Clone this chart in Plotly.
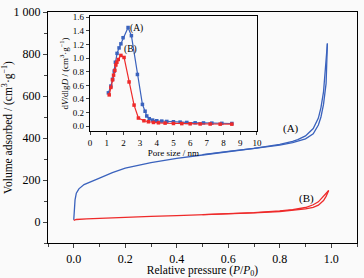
import plotly.graph_objects as go

# Main isotherms
pA_ads = [0.0, 0.002, 0.005, 0.01, 0.02, 0.04, 0.07, 0.1, 0.15, 0.2, 0.3, 0.4, 0.5, 0.6, 0.7, 0.8, 0.85, 0.9, 0.93, 0.95, 0.96, 0.97, 0.98, 0.985]
vA_ads = [10, 60, 105, 137, 158, 178, 195, 209, 235, 256, 283, 303, 319, 334, 349, 366, 378, 396, 420, 462, 500, 560, 660, 850]
pA_des = [0.985, 0.98, 0.975, 0.97, 0.96, 0.95, 0.93, 0.9, 0.87, 0.85, 0.8, 0.7, 0.6, 0.5]
vA_des = [850, 770, 690, 620, 545, 495, 445, 410, 392, 384, 370, 351, 336, 321]

pB_ads = [0.0, 0.005, 0.01, 0.05, 0.1, 0.2, 0.3, 0.4, 0.5, 0.6, 0.7, 0.8, 0.85, 0.9, 0.93, 0.95, 0.97, 0.98, 0.99]
vB_ads = [8, 11, 12, 15, 18, 23, 27, 30, 34, 38, 43, 50, 55, 62, 70, 80, 102, 122, 150]
pB_des = [0.99, 0.98, 0.97, 0.95, 0.93, 0.9, 0.85, 0.8, 0.7, 0.6, 0.5]
vB_des = [150, 136, 120, 96, 82, 69, 59, 53, 45, 39, 35]

# Inset pore size distribution
dA = [1.1, 1.25, 1.35, 1.45, 1.52, 1.62, 1.74, 1.85, 1.98, 2.28, 2.48, 2.84, 3.14, 3.3, 3.4, 3.55, 3.75, 4.0, 4.3, 4.6, 5.0, 5.4, 5.8, 6.3, 6.8, 7.3, 7.9, 8.5]
yA = [0.49, 0.59, 0.69, 0.81, 0.94, 1.07, 1.15, 1.21, 1.30, 1.45, 1.33, 0.76, 0.32, 0.22, 0.15, 0.11, 0.09, 0.08, 0.075, 0.07, 0.065, 0.06, 0.055, 0.05, 0.048, 0.045, 0.042, 0.04]
dB = [1.15, 1.25, 1.35, 1.41, 1.49, 1.55, 1.61, 1.69, 1.85, 2.04, 2.34, 2.64, 2.9, 3.23, 3.5, 3.8, 4.1, 4.5, 5.0, 5.5, 6.0, 6.6, 7.2, 7.8, 8.5]
yB = [0.46, 0.57, 0.68, 0.75, 0.82, 0.90, 0.94, 0.98, 1.04, 1.01, 0.65, 0.31, 0.12, 0.08, 0.065, 0.055, 0.05, 0.045, 0.04, 0.038, 0.035, 0.033, 0.032, 0.03, 0.03]

y_ticks = [0, 200, 400, 600, 800, 1000]
y_ticktext = ["0", "200", "400", "600", "800", "1 000"]

BLUE = "#3a62bd"
RED = "#ee2a2a"
FONT = "Liberation Serif, Times New Roman, serif"

fig = go.Figure()
fig.add_trace(go.Scatter(x=pA_ads, y=vA_ads, mode="lines", line=dict(color=BLUE, width=1.3), showlegend=False))
fig.add_trace(go.Scatter(x=pA_des, y=vA_des, mode="lines", line=dict(color=BLUE, width=1.3), showlegend=False))
fig.add_trace(go.Scatter(x=pB_ads, y=vB_ads, mode="lines", line=dict(color=RED, width=1.3), showlegend=False))
fig.add_trace(go.Scatter(x=pB_des, y=vB_des, mode="lines", line=dict(color=RED, width=1.3), showlegend=False))

fig.add_trace(go.Scatter(x=dA, y=yA, mode="lines+markers", xaxis="x2", yaxis="y2",
                         line=dict(color=BLUE, width=1.2), marker=dict(symbol="square", size=3.5, color=BLUE),
                         showlegend=False))
fig.add_trace(go.Scatter(x=dB, y=yB, mode="lines+markers", xaxis="x2", yaxis="y2",
                         line=dict(color=RED, width=1.2), marker=dict(symbol="square", size=3.5, color=RED),
                         showlegend=False))

fig.update_layout(
    width=364, height=278,
    margin=dict(l=48, r=7, t=12, b=35),
    paper_bgcolor="#fafafa", plot_bgcolor="#fafafa",
    font=dict(family=FONT, color="black", size=12),
    xaxis=dict(range=[-0.1, 1.1], tickvals=[0.0, 0.2, 0.4, 0.6, 0.8, 1.0], tickformat=".1f",
               ticks="outside", ticklen=4, tickwidth=1, showline=True, linecolor="black", linewidth=1.4,
               mirror=True, showgrid=False, zeroline=False, automargin=False,
               minor=dict(ticks="outside", ticklen=2.5, dtick=0.1, tick0=0, showgrid=False),
               title=dict(text="Relative pressure (<i>P</i>/<i>P</i><sub>0</sub>)", font=dict(size=11.5), standoff=2),
               tickfont=dict(size=12)),
    yaxis=dict(range=[-100, 1000], tickvals=y_ticks, ticktext=y_ticktext,
               ticks="outside", ticklen=4, tickwidth=1, showline=True, linecolor="black", linewidth=1.4,
               mirror=True, showgrid=False, zeroline=False, automargin=False,
               minor=dict(ticks="outside", ticklen=2.5, dtick=100, tick0=0, showgrid=False),
               title=dict(text="Volume adsorbed / (cm<sup>3</sup>·g<sup>−1</sup>)", font=dict(size=11.5), standoff=4),
               tickfont=dict(size=12)),
    xaxis2=dict(domain=[0.136, 0.676], anchor="y2", range=[0, 10], dtick=1, tick0=0,
                ticks="outside", ticklen=3, tickwidth=1, showline=True, linecolor="black", linewidth=1.2,
                mirror=True, showgrid=False, zeroline=False, automargin=False,
                title=dict(text="Pore size / nm", font=dict(size=9), standoff=1),
                tickfont=dict(size=9)),
    yaxis2=dict(domain=[0.485, 0.983], anchor="x2", range=[-0.07, 1.62],
                tickvals=[0, 0.2, 0.4, 0.6, 0.8, 1.0, 1.2, 1.4, 1.6], tickformat=".1f",
                ticks="outside", ticklen=3, tickwidth=1, showline=True, linecolor="black", linewidth=1.2,
                mirror=True, showgrid=False, zeroline=False, automargin=False,
                title=dict(text="d<i>V</i>/dlg<i>D</i> / (cm<sup>3</sup>·g<sup>−1</sup>)", font=dict(size=9), standoff=2),
                tickfont=dict(size=9)),
    annotations=[
        dict(x=0.845, y=447, xref="x", yref="y", text="(A)", showarrow=False, font=dict(size=11)),
        dict(x=0.903, y=114, xref="x", yref="y", text="(B)", showarrow=False, font=dict(size=11)),
        dict(x=2.8, y=1.44, xref="x2", yref="y2", text="(A)", showarrow=False, font=dict(size=9.5)),
        dict(x=2.45, y=1.13, xref="x2", yref="y2", text="(B)", showarrow=False, font=dict(size=9.5)),
    ],
)

fig.write_html("out.html", config={"displayModeBar": False},
               post_script="document.body.style.margin='0';document.body.style.background='#fafafa';")
